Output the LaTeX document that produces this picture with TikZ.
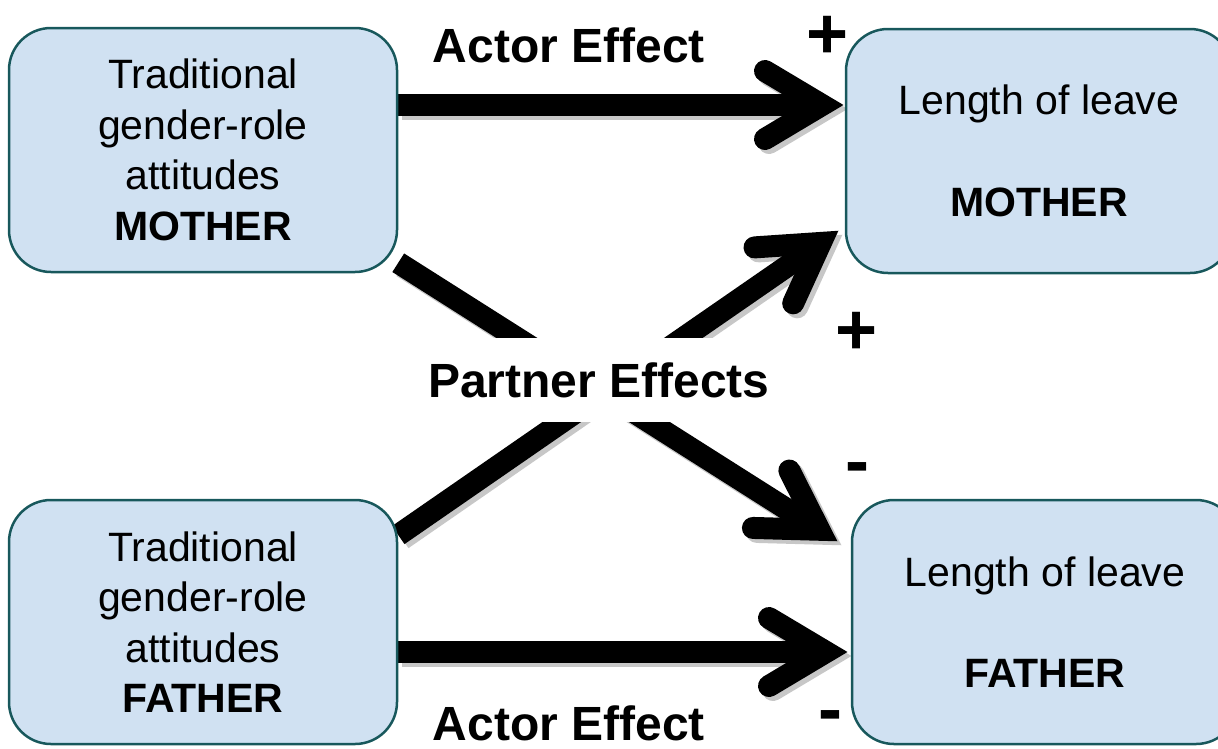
\documentclass[tikz,border=0pt]{standalone}
\usepackage{fontspec}
\setmainfont{Liberation Sans}
\usetikzlibrary{arrows.meta,positioning}

\definecolor{boxfill}{RGB}{208,225,242}
\definecolor{boxline}{RGB}{24,88,92}

\pgfdeclarelayer{background}
\pgfsetlayers{background,main}

% open arrow head, round ends, sharp tip
\pgfdeclarearrow{
  name = fatbarb,
  setup code = {
    \pgfarrowssettipend{21pt}
    \pgfarrowssetlineend{0pt}
    \pgfarrowssetbackend{-68pt}
    \pgfarrowshullpoint{21pt}{0pt}
    \pgfarrowsupperhullpoint{-68pt}{45pt}
  },
  drawing code = {
    \pgfsetlinewidth{22pt}
    \pgfsetroundcap
    \pgfsetmiterjoin
    \pgfpathmoveto{\pgfqpoint{-57pt}{34pt}}
    \pgfpathlineto{\pgfqpoint{0pt}{0pt}}
    \pgfpathlineto{\pgfqpoint{-57pt}{-34pt}}
    \pgfusepathqstroke
  }
}

\tikzset{
  attbox/.style={rectangle, rounded corners=42pt, draw=boxline, line width=2.5pt,
    fill=boxfill, minimum width=388pt, minimum height=244pt, align=center,
    font=\fontsize{41}{50.5}\selectfont},
  effect/.style={line width=22pt, -{fatbarb}},
  effectshadow/.style={effect, draw=black!22, transform canvas={shift={(4pt,-4pt)}}},
  efflabel/.style={font=\fontsize{48}{58}\selectfont\bfseries, inner sep=0pt},
  sign/.style={font=\fontsize{72}{80}\selectfont\bfseries, inner sep=0pt, anchor=base},
}

\begin{document}
\begin{tikzpicture}[x=1pt, y=-1pt]
  \useasboundingbox (0,0) rectangle (1218,748);

  \node[attbox] (tmother) at (203,150) {Traditional\\gender-role\\attitudes\\\textbf{MOTHER}};
  \node[attbox] (tfather) at (203,622) {Traditional\\gender-role\\attitudes\\\textbf{FATHER}};
  \node[attbox, minimum width=386pt] (lmother) at (1039,151) {Length of leave\\[51pt]\textbf{MOTHER}};
  \node[attbox, minimum width=386pt] (lfather) at (1045,622) {Length of leave\\[51pt]\textbf{FATHER}};

  % arrow tips
  \coordinate (mm) at (843,105);
  \coordinate (fm) at (838,231);
  \coordinate (mf) at (837,541);
  \coordinate (ff) at (847,652);

  \begin{pgfonlayer}{background}
    \draw[effectshadow] (tmother.east |- mm) -- (mm);
    \draw[effectshadow] (tfather.24) -- (fm);
    \draw[effectshadow] (tmother.-30) -- (mf);
    \draw[effectshadow] (tfather.east |- ff) -- (ff);

    \draw[effect] (tmother.east |- mm) -- (mm);
    \draw[effect] (tfather.24) -- (fm);
    \draw[effect] (tmother.-30) -- (mf);
    \draw[effect] (tfather.east |- ff) -- (ff);
  \end{pgfonlayer}

  \node[efflabel, fill=white, minimum height=84pt, inner xsep=6pt] (partner) at (599,380) {Partner Effects};
  \node[efflabel, anchor=base] (actortop) at (569,62) {Actor Effect};
  \node[efflabel, anchor=base] (actorbot) at (569,740) {Actor Effect};

  \node[sign] (plusmm) at (828,58) {+};
  \node[sign] (plusfm) at (857,354) {+};
  \node[sign] (minusmf) at (857,485) {-};
  \node[sign] (minusff) at (830,733) {-};
\end{tikzpicture}
\end{document}
